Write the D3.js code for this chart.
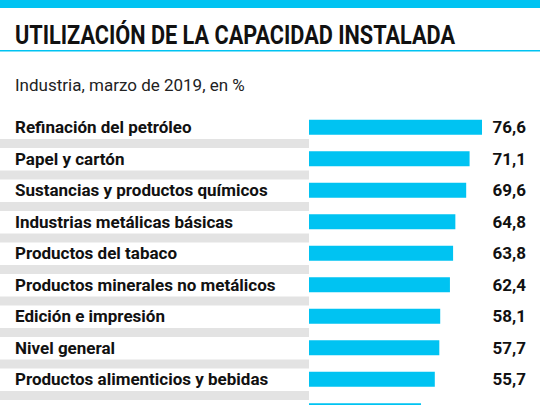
<!DOCTYPE html><html><head><meta charset="utf-8"><script src="https://d3js.org/d3.v7.min.js"></script>
<style>body{margin:0;background:#fff}text{font-family:"Liberation Sans Narrow",Roboto,sans-serif}</style></head><body><svg width="540" height="405"></svg><script>
const categories=["Refinación del petróleo","Papel y cartón","Sustancias y productos químicos","Industrias metálicas básicas","Productos del tabaco","Productos minerales no metálicos","Edición e impresión","Nivel general","Productos alimenticios y bebidas","Productos textiles"];
const values=[76.6,71.1,69.6,64.8,63.8,62.4,58.1,57.7,55.7,49.6];
const svg=d3.select("svg");
const cyan="#00c3f2";
svg.append("rect").attr("x",0).attr("y",0).attr("width",540).attr("height",8).attr("fill",cyan);
svg.append("text").attr("x",15).attr("y",44).attr("font-size",26).attr("font-weight","bold").attr("fill","#111").text("UTILIZACIÓN DE LA CAPACIDAD INSTALADA").attr("textLength",440).attr("lengthAdjust","spacingAndGlyphs");
svg.append("rect").attr("x",0).attr("y",50).attr("width",540).attr("height",1.5).attr("fill",cyan);
svg.append("text").attr("x",15).attr("y",91).attr("font-size",17).attr("fill","#222").text("Industria, marzo de 2019, en %");
const y=d3.scaleBand().domain(categories).range([111.5,426.5]);
const x=d3.scaleLinear().domain([0,76.6]).range([309,482]);
const g=svg.selectAll("g.r").data(categories).enter().append("g");
g.append("rect").attr("x",0).attr("width",309).attr("y",(d)=>y(d)+y.bandwidth()-4).attr("height",9).attr("fill","#e3e3e3");
g.append("rect").attr("x",x(0)).attr("y",d=>y(d)+y.bandwidth()/2-7.5).attr("height",15).attr("width",(d,i)=>x(values[i])-x(0)).attr("fill",cyan);
g.append("text").attr("x",15).attr("y",d=>y(d)+y.bandwidth()/2+6).attr("font-size",17).attr("font-weight","bold").attr("fill","#111").text(d=>d);
g.append("text").attr("x",526).attr("text-anchor","end").attr("y",d=>y(d)+y.bandwidth()/2+6).attr("font-size",17).attr("font-weight","bold").attr("fill","#111").text((d,i)=>d3.format(".1f")(values[i]).replace(".",","));
</script></body></html>
